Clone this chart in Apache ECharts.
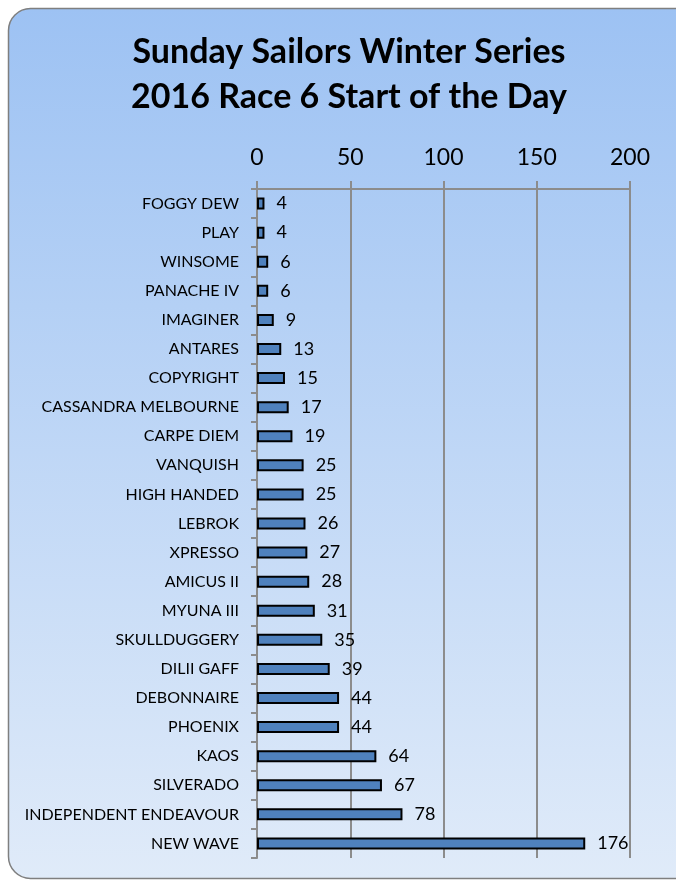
<!DOCTYPE html>
<html>
<head>
<meta charset="utf-8">
<script src="https://cdn.jsdelivr.net/npm/echarts@6/dist/echarts.min.js"></script>
<style>
  html, body { margin: 0; padding: 0; background: #fff; }
  #chart { width: 676px; height: 886px; }
</style>
</head>
<body>
<div id="chart"></div>
<script>
const boats = [
  'FOGGY DEW', 'PLAY', 'WINSOME', 'PANACHE IV', 'IMAGINER', 'ANTARES',
  'COPYRIGHT', 'CASSANDRA MELBOURNE', 'CARPE DIEM', 'VANQUISH', 'HIGH HANDED',
  'LEBROK', 'XPRESSO', 'AMICUS II', 'MYUNA III', 'SKULLDUGGERY', 'DILII GAFF',
  'DEBONNAIRE', 'PHOENIX', 'KAOS', 'SILVERADO', 'INDEPENDENT ENDEAVOUR', 'NEW WAVE'
];
const handicaps = [4, 4, 6, 6, 9, 13, 15, 17, 19, 25, 25, 26, 27, 28, 31, 35, 39, 44, 44, 64, 67, 78, 176];
const xTicks = [0, 50, 100, 150, 200];

const chart = echarts.init(document.getElementById('chart'));

const font = 'Lato';

const option = {
  animation: false,
  backgroundColor: 'transparent',
  graphic: [{
    type: 'rect',
    z: -10,
    shape: { x: 8.5, y: 8.5, width: 700, height: 870, r: 22 },
    style: {
      fill: new echarts.graphic.LinearGradient(0, 0, 0, 1, [
        { offset: 0, color: '#9dc2f3' },
        { offset: 1, color: '#e0ebf9' }
      ]),
      stroke: '#7f7f7f',
      lineWidth: 1.5
    }
  }],
  title: {
    text: 'Sunday Sailors Winter Series\n2016 Race 6 Start of the Day',
    left: 344,
    top: 25,
    textAlign: 'center',
    textStyle: {
      fontFamily: font,
      fontWeight: 'bold',
      fontSize: 34,
      lineHeight: 45,
      color: '#000'
    }
  },
  grid: {
    left: 257,
    right: 46,
    top: 189,
    bottom: 28
  },
  xAxis: {
    type: 'value',
    position: 'top',
    min: xTicks[0],
    max: xTicks[xTicks.length - 1],
    interval: 50,
    axisLine: { show: true, lineStyle: { color: '#8c8c8c', width: 2 } },
    axisTick: { show: true, length: 8, lineStyle: { color: '#8c8c8c', width: 2 } },
    axisLabel: {
      color: '#000',
      fontFamily: font,
      fontSize: 23,
      margin: 20
    },
    splitLine: { show: true, lineStyle: { color: '#8c8c8c', width: 2 } }
  },
  yAxis: {
    type: 'category',
    inverse: true,
    data: boats,
    axisLine: { show: true, lineStyle: { color: '#8c8c8c', width: 2 } },
    axisTick: { show: true, length: 6, lineStyle: { color: '#8c8c8c', width: 2 } },
    axisLabel: {
      color: '#000',
      fontFamily: font,
      fontSize: 16,
      margin: 18
    }
  },
  series: [{
    type: 'bar',
    data: handicaps,
    barWidth: 12,
    itemStyle: {
      color: '#4f81bd',
      borderColor: '#000',
      borderWidth: 2
    },
    label: {
      show: true,
      position: 'right',
      distance: 12,
      color: '#000',
      fontFamily: font,
      fontSize: 18
    }
  }]
};

chart.setOption(option);
</script>
</body>
</html>
